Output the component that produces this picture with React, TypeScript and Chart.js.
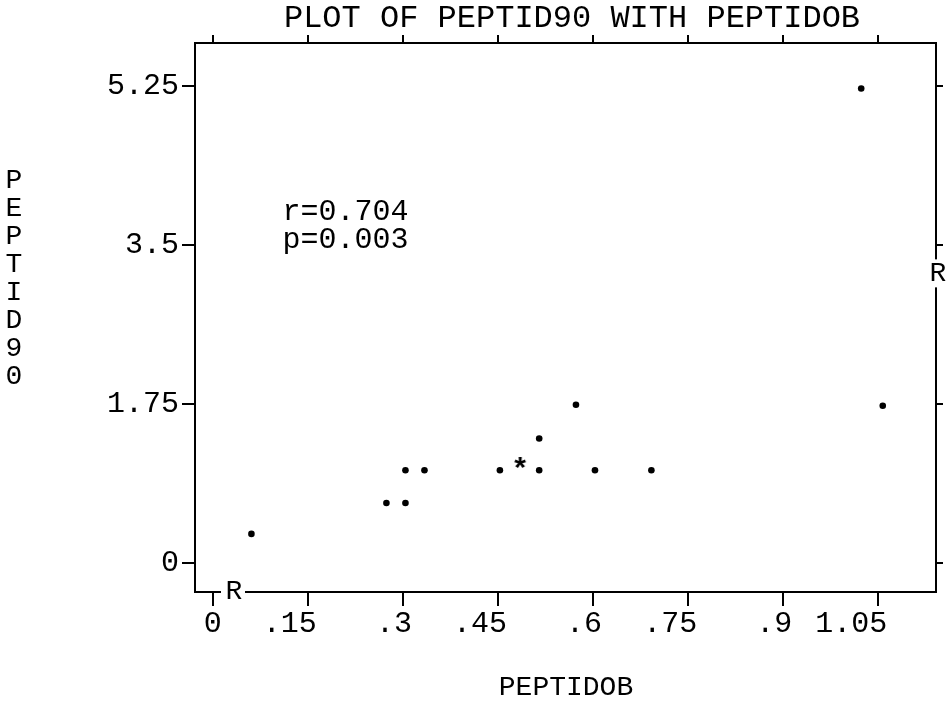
import { useEffect, useRef } from 'react';
import { Chart, registerables } from 'chart.js';
Chart.register(...registerables);

const peptidob = [0.061, 0.274, 0.304, 0.304, 0.334, 0.453, 0.515, 0.515, 0.573, 0.603, 0.692, 1.023, 1.057];
const peptid90 = [0.32, 0.66, 0.66, 1.02, 1.02, 1.02, 1.02, 1.37, 1.74, 1.02, 1.02, 5.22, 1.73];
const multiX = [0.485];
const multiY = [1.1];
const xTicks = [0, 0.15, 0.3, 0.45, 0.6, 0.75, 0.9, 1.05];
const xTickLabels = ['0', '.15', '.3', '.45', '.6', '.75', '.9', '1.05'];
const yTicks = [0, 1.75, 3.5, 5.25];
const yTickLabels = ['0', '1.75', '3.5', '5.25'];
const titleText = 'PLOT OF PEPTID90 WITH PEPTIDOB';
const xTitle = 'PEPTIDOB';
const yTitle = 'PEPTID90';
const notes = ['r=0.704', 'p=0.003'];

const FONT = '"Liberation Mono", "DejaVu Sans Mono", monospace';
const X_MIN = -0.028;
const X_MAX = 1.141;
const Y_MIN = -0.319;
const Y_MAX = 5.72;

const padLabel = (s: string) => s + ' '.repeat(Math.max(0, s.length - 1));

function makeStar(): HTMLCanvasElement {
  const c = document.createElement('canvas');
  c.width = 24;
  c.height = 24;
  const ctx = c.getContext('2d')!;
  ctx.fillStyle = '#000';
  ctx.font = `bold 30px ${FONT}`;
  ctx.textAlign = 'center';
  ctx.textBaseline = 'alphabetic';
  const m = ctx.measureText('*');
  ctx.fillText(
    '*',
    12 + (m.actualBoundingBoxLeft - m.actualBoundingBoxRight) / 2,
    12 + (m.actualBoundingBoxAscent - m.actualBoundingBoxDescent) / 2
  );
  return c;
}

const textPlugin = {
  id: 'sasText',
  afterDraw(chart: any) {
    const ctx = chart.ctx as CanvasRenderingContext2D;
    const ca = chart.chartArea;
    const xs = chart.scales.x;
    const ys = chart.scales.y;
    ctx.save();
    ctx.fillStyle = '#000';
    // title
    ctx.font = `32px ${FONT}`;
    ctx.textAlign = 'center';
    ctx.textBaseline = 'middle';
    ctx.fillText(titleText, 572, 19);
    // x title
    ctx.font = `28px ${FONT}`;
    ctx.fillText(xTitle, 566, 688);
    // y title stacked
    for (let i = 0; i < yTitle.length; i++) {
      ctx.fillText(yTitle[i], 14, 181 + i * 27.9);
    }
    // notes
    ctx.font = `30px ${FONT}`;
    ctx.textAlign = 'left';
    ctx.fillText(notes[0], xs.getPixelForValue(0.11), ys.getPixelForValue(3.86));
    ctx.fillText(notes[1], xs.getPixelForValue(0.11), ys.getPixelForValue(3.55));
    // R markers
    ctx.fillStyle = '#fff';
    ctx.fillRect(221, ca.bottom - 3, 24, 6);
    ctx.fillRect(ca.right - 3, ys.getPixelForValue(3.34), 6, 28);
    ctx.fillStyle = '#000';
    ctx.font = `28px ${FONT}`;
    ctx.textAlign = 'center';
    ctx.fillText('R', 234, ca.bottom);
    ctx.fillText('R', ca.right + 2, ys.getPixelForValue(3.5) + 29);
    ctx.restore();
  },
};

export default function App() {
  const ref = useRef<HTMLCanvasElement | null>(null);
  useEffect(() => {
    if (!ref.current) return;
    document.body.style.margin = '0';
    const star = makeStar();
    const tickFont = { family: FONT, size: 30 };
    const chart = new Chart(ref.current, {
      type: 'scatter',
      data: {
        datasets: [
          {
            data: peptidob.map((x, i) => ({ x, y: peptid90[i] })),
            pointRadius: 3.3,
            pointBackgroundColor: '#000',
            pointBorderWidth: 0,
          },
          {
            data: multiX.map((x, i) => ({ x, y: multiY[i] })),
            pointStyle: star as any,
            pointRadius: 10,
          },
        ],
      },
      plugins: [textPlugin],
      options: {
        animation: false,
        responsive: false,
        events: [],
        layout: { padding: 0 },
        plugins: { legend: { display: false }, tooltip: { enabled: false }, title: { display: false } },
        scales: {
          x: {
            type: 'linear',
            position: 'bottom',
            min: X_MIN,
            max: X_MAX,
            afterBuildTicks: (s: any) => { s.ticks = xTicks.map((v) => ({ value: v })); },
            afterFit: (s: any) => { s.height = 112; },
            ticks: {
              callback: (_v: any, i: number) => padLabel(xTickLabels[i]),
              font: tickFont,
              color: '#000',
              padding: 0,
              maxRotation: 0,
              autoSkip: false,
            },
            grid: { drawOnChartArea: false, drawTicks: true, tickLength: 14, color: '#000', lineWidth: 2 },
            border: { display: true, color: '#000', width: 2 },
          },
          x2: {
            type: 'linear',
            position: 'top',
            min: X_MIN,
            max: X_MAX,
            afterBuildTicks: (s: any) => { s.ticks = xTicks.map((v) => ({ value: v })); },
            afterFit: (s: any) => { s.height = 43; },
            ticks: { display: false },
            grid: { drawOnChartArea: false, drawTicks: true, tickLength: 8, color: '#000', lineWidth: 2 },
            border: { display: true, color: '#000', width: 2 },
          },
          y: {
            type: 'linear',
            position: 'left',
            min: Y_MIN,
            max: Y_MAX,
            afterBuildTicks: (s: any) => { s.ticks = yTicks.map((v) => ({ value: v })); },
            afterFit: (s: any) => { s.width = 195; },
            ticks: {
              callback: (_v: any, i: number) => yTickLabels[i],
              font: tickFont,
              color: '#000',
              padding: 3,
            },
            grid: { drawOnChartArea: false, drawTicks: true, tickLength: 13, color: '#000', lineWidth: 2 },
            border: { display: true, color: '#000', width: 2 },
          },
          y2: {
            type: 'linear',
            position: 'right',
            min: Y_MIN,
            max: Y_MAX,
            afterBuildTicks: (s: any) => { s.ticks = yTicks.map((v) => ({ value: v })); },
            afterFit: (s: any) => { s.width = 9; },
            ticks: { display: false },
            grid: { drawOnChartArea: false, drawTicks: true, tickLength: 7, color: '#000', lineWidth: 2 },
            border: { display: true, color: '#000', width: 2 },
          },
        },
      } as any,
    });
    return () => chart.destroy();
  }, []);
  return (
    <div style={{ position: 'fixed', left: 0, top: 0, width: 947, height: 704, background: '#fff' }}>
      <canvas ref={ref} width={947} height={704} style={{ width: 947, height: 704, display: 'block' }} />
    </div>
  );
}
